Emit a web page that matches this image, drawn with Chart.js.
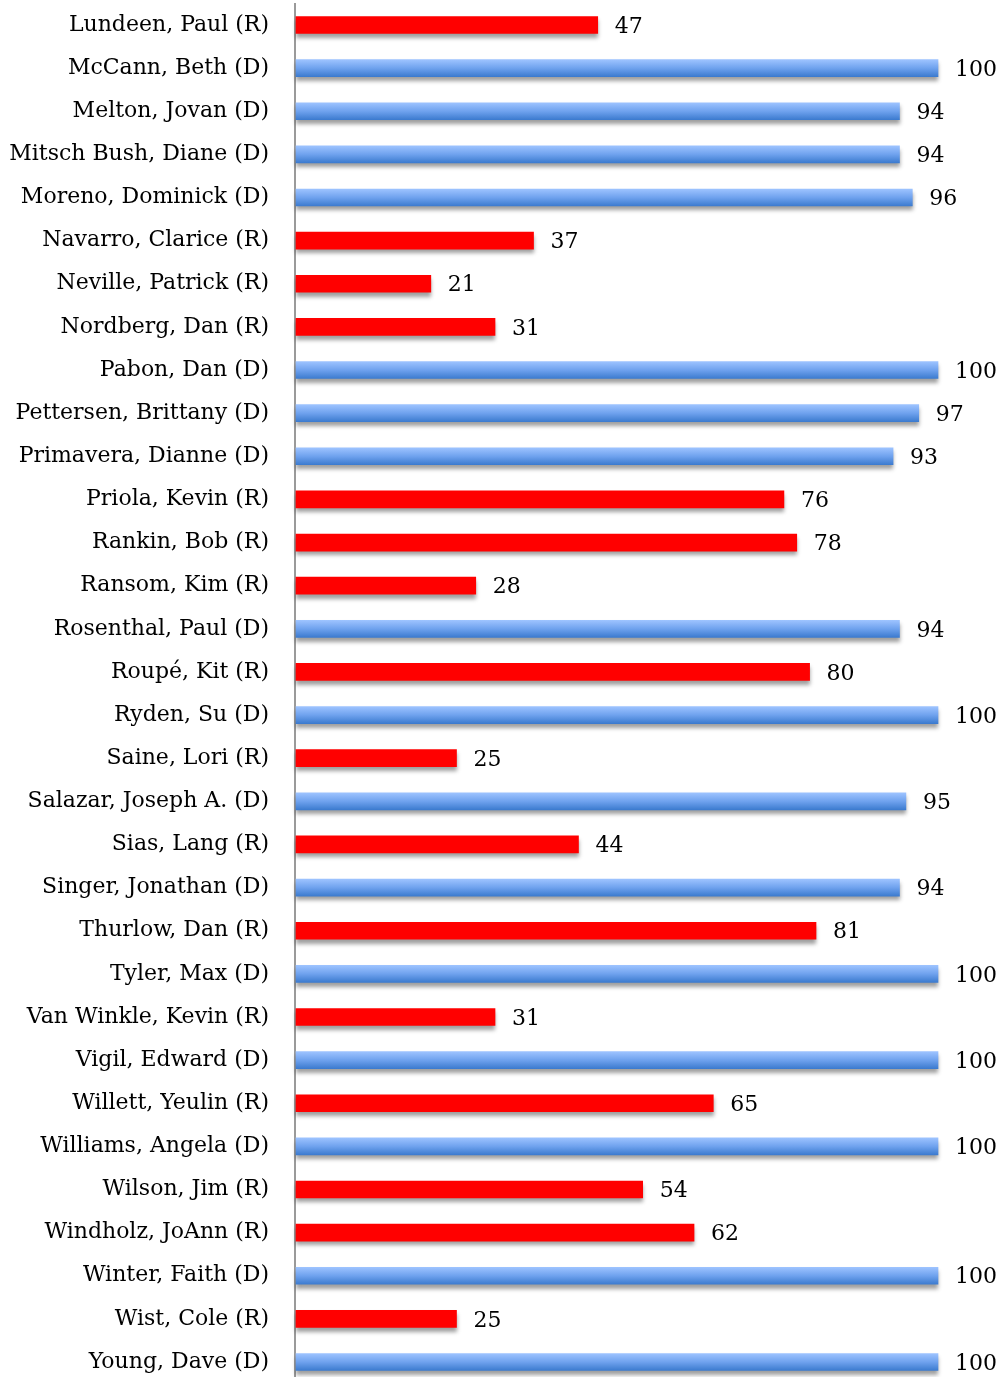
<!DOCTYPE html>
<html>
<head>
<meta charset="utf-8">
<script src="https://cdn.jsdelivr.net/npm/chart.js@4.4.1/dist/chart.umd.min.js"></script>
<style>
  html,body{margin:0;padding:0;background:#fff;overflow:hidden}
  #wrap{width:1002px;height:1377px;position:relative}
</style>
</head>
<body>
<div id="wrap"><canvas id="c"></canvas></div>
<script>
const names = [
  "Lundeen, Paul (R)","McCann, Beth (D)","Melton, Jovan (D)","Mitsch Bush, Diane (D)",
  "Moreno, Dominick (D)","Navarro, Clarice (R)","Neville, Patrick (R)","Nordberg, Dan (R)",
  "Pabon, Dan (D)","Pettersen, Brittany (D)","Primavera, Dianne (D)","Priola, Kevin (R)",
  "Rankin, Bob (R)","Ransom, Kim (R)","Rosenthal, Paul (D)","Roupé, Kit (R)",
  "Ryden, Su (D)","Saine, Lori (R)","Salazar, Joseph A. (D)","Sias, Lang (R)",
  "Singer, Jonathan (D)","Thurlow, Dan (R)","Tyler, Max (D)","Van Winkle, Kevin (R)",
  "Vigil, Edward (D)","Willett, Yeulin (R)","Williams, Angela (D)","Wilson, Jim (R)",
  "Windholz, JoAnn (R)","Winter, Faith (D)","Wist, Cole (R)","Young, Dave (D)"
];
const scores = [
  47,100,94,94,96,37,21,31,
  100,97,93,76,78,28,94,80,
  100,25,95,44,94,81,100,31,
  100,65,100,54,62,100,25,100
];

const FONT = "'DejaVu Serif', serif";
const BAR_H = 17;

// rosso pieno per R, gradiente blu per D
function barColor(ctx){
  const i = ctx.dataIndex;
  if (names[i].endsWith("(R)")) return "#ff0000";
  const chart = ctx.chart;
  const y = chart.scales.y ? chart.scales.y.getPixelForValue(i) : 0;
  const g = chart.ctx.createLinearGradient(0, y - BAR_H/2, 0, y + BAR_H/2);
  g.addColorStop(0, "#9dc3ff");
  g.addColorStop(0.5, "#6fa2ee");
  g.addColorStop(1, "#3c7bcf");
  return g;
}

const fx = {
  id: "fx",
  beforeDatasetsDraw(chart){
    const c = chart.ctx, a = chart.chartArea;
    // asse verticale
    c.save();
    c.strokeStyle = "#9a9a9a";
    c.lineWidth = 2;
    c.beginPath();
    c.moveTo(a.left - 1, 3);
    c.lineTo(a.left - 1, chart.height);
    c.stroke();
    c.restore();
    // ombra sotto le barre
    c.save();
    c.shadowColor = "rgba(0,0,0,0.38)";
    c.shadowBlur = 4;
    c.shadowOffsetY = 4;
  },
  afterDatasetsDraw(chart){
    const c = chart.ctx;
    c.restore();
    c.save();
    c.font = "22px " + FONT;
    c.fillStyle = "#000";
    c.textBaseline = "middle";
    chart.getDatasetMeta(0).data.forEach((bar, i) => {
      c.fillText(String(scores[i]), bar.x + 17, bar.y + 2);
    });
    c.restore();
  }
};

new Chart(document.getElementById("c"), {
  type: "bar",
  data: {
    labels: names,
    datasets: [{
      data: scores,
      backgroundColor: barColor,
      borderWidth: 0,
      barThickness: BAR_H,
      clip: false
    }]
  },
  options: {
    indexAxis: "y",
    responsive: true,
    maintainAspectRatio: false,
    animation: false,
    layout: { padding: { top: 25, bottom: 15, left: 0, right: 64 } },
    plugins: { legend: { display: false }, tooltip: { enabled: false } },
    scales: {
      x: {
        min: 0, max: 100,
        display: false
      },
      y: {
        offset: false,
        grid: { display: false, drawTicks: false },
        border: { display: false },
        afterFit: s => { s.width = 296; s.paddingTop = 0; s.paddingBottom = 0; },
        ticks: {
          padding: 27,
          autoSkip: false,
          color: "#000",
          font: { family: FONT, size: 22 }
        }
      }
    }
  },
  plugins: [fx]
});
</script>
</body>
</html>
